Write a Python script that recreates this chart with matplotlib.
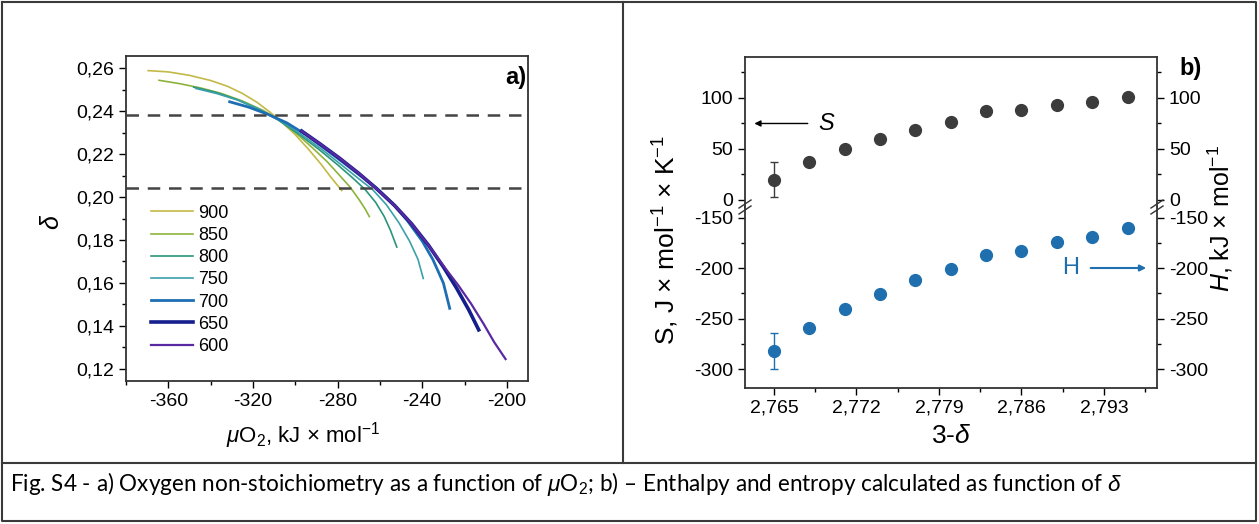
import matplotlib
matplotlib.use("Agg")
import matplotlib.pyplot as plt
from matplotlib.lines import Line2D
from matplotlib.ticker import MultipleLocator, FuncFormatter

plt.rcParams['font.family'] = ['Liberation Sans', 'DejaVu Sans']
plt.rcParams['mathtext.fontset'] = 'custom'
plt.rcParams['mathtext.rm'] = 'Liberation Sans'
plt.rcParams['mathtext.it'] = 'Liberation Sans:italic'
plt.rcParams['mathtext.bf'] = 'Liberation Sans:bold'

# ---- panel a: delta vs mu(O2) at several temperatures ----
temps = ["900", "850", "800", "750", "700", "650", "600"]
colors_a = ["#c3b946", "#8cb43c", "#2a9678", "#3ca0aa", "#1e6eb4", "#141e8c", "#5a28a0"]
widths_a = [1.2, 1.2, 1.2, 1.2, 2.0, 2.6, 1.6]

mu_900 = [-369.5, -360, -350, -340, -332, -325, -318, -312, -306, -300, -294, -288, -283, -278]
d_900 = [0.2588, 0.2582, 0.2566, 0.2542, 0.2515, 0.2482, 0.2440, 0.2395, 0.2345, 0.2290,
         0.2225, 0.2155, 0.2090, 0.2030]
mu_850 = [-364.4, -355, -345, -335, -325, -315, -308, -300, -292, -285, -279, -274, -270, -267, -265]
d_850 = [0.2543, 0.2528, 0.2508, 0.2482, 0.2447, 0.2402, 0.2360, 0.2300, 0.2230, 0.2165,
         0.2100, 0.2045, 0.1990, 0.1945, 0.1909]
mu_800 = [-348, -338, -328, -318, -308, -298, -288, -280, -273, -267, -262, -258, -255, -252]
d_800 = [0.2511, 0.2488, 0.2455, 0.2412, 0.2358, 0.2290, 0.2215, 0.2150, 0.2090, 0.2035,
         0.1975, 0.1910, 0.1845, 0.1767]
mu_750 = [-347, -337, -327, -317, -307, -297, -287, -278, -270, -263.5, -257, -251, -246, -242, -239.5]
d_750 = [0.2505, 0.2481, 0.2450, 0.2408, 0.2355, 0.2290, 0.2218, 0.2148, 0.2085, 0.2035,
         0.1965, 0.1880, 0.1795, 0.1710, 0.1621]
mu_700 = [-331, -322, -313, -304, -295, -286, -277, -268, -261.5, -254, -247, -240, -235, -230, -227]
d_700 = [0.2443, 0.2418, 0.2385, 0.2345, 0.2290, 0.2225, 0.2158, 0.2090, 0.2040, 0.1970,
         0.1890, 0.1795, 0.1710, 0.1600, 0.1482]
mu_650 = [-297, -288, -279, -270, -261.7, -253, -245, -237, -230, -224, -218, -213.3]
d_650 = [0.2307, 0.2245, 0.2180, 0.2110, 0.2040, 0.1960, 0.1875, 0.1775, 0.1675, 0.1580,
         0.1475, 0.1382]
mu_600 = [-297, -288, -279, -270, -261.7, -253, -245, -237, -230, -223, -217, -211, -206, -200.6]
d_600 = [0.2307, 0.2245, 0.2180, 0.2110, 0.2040, 0.1960, 0.1875, 0.1775, 0.1680, 0.1590,
         0.1505, 0.1410, 0.1325, 0.1246]
mu_list = [mu_900, mu_850, mu_800, mu_750, mu_700, mu_650, mu_600]
d_list = [d_900, d_850, d_800, d_750, d_700, d_650, d_600]
dash_levels = [0.2381, 0.2040]

# ---- panel b: S and H vs 3-delta ----
x_b = [2.765, 2.768, 2.771, 2.774, 2.777, 2.780, 2.783, 2.786, 2.789, 2.792, 2.795]
S_vals = [20, 37, 50, 60, 69, 76, 87, 88, 93, 96, 101]
S_err = [17, 0, 0, 0, 0, 0, 0, 0, 0, 0, 0]
H_vals = [-282, -259, -241, -226, -212, -201, -187, -183, -174, -169, -160]
H_err = [18, 0, 0, 0, 0, 0, 0, 0, 0, 0, 0]

W, H = 1259, 524
fig = plt.figure(figsize=(W / 100, H / 100), dpi=100)


def box(l, t, r, b):
    return [l / W, 1 - b / H, (r - l) / W, (b - t) / H]


comma2 = FuncFormatter(lambda v, p: ("%.2f" % v).replace(".", ","))
comma3 = FuncFormatter(lambda v, p: ("%.3f" % v).replace(".", ","))
intfmt = FuncFormatter(lambda v, p: "%d" % round(v))

# panel a
ax = fig.add_axes(box(126, 56, 528, 381))
for i in range(len(temps)):
    ax.plot(mu_list[i], d_list[i], color=colors_a[i], lw=widths_a[i], label=temps[i])
for lvl in dash_levels:
    ax.axhline(lvl, color="#444444", lw=1.8, dashes=(5, 3.5))
ax.set_xlim(-380, -190)
ax.set_ylim(0.1144, 0.2656)
ax.xaxis.set_major_locator(MultipleLocator(40))
ax.xaxis.set_minor_locator(MultipleLocator(20))
ax.yaxis.set_major_locator(MultipleLocator(0.02))
ax.yaxis.set_minor_locator(MultipleLocator(0.01))
ax.xaxis.set_major_formatter(intfmt)
ax.yaxis.set_major_formatter(comma2)
ax.tick_params(which="both", direction="out", labelsize=14, width=1)
ax.tick_params(which="major", length=5)
ax.tick_params(which="minor", length=3)
for s in ax.spines.values():
    s.set_color("#333333")
    s.set_linewidth(1.3)
ax.set_xlabel(r"$\mu$O$_2$, kJ × mol$^{-1}$", fontsize=16)
ax.xaxis.set_label_coords((303 - 126) / 402, -(436 - 381) / 325)
ax.xaxis.label.set_va("center")
ax.set_ylabel(r"$\delta$", fontsize=18)
ax.yaxis.set_label_coords(-(126 - 52) / 402, (381 - 222) / 325)
ax.yaxis.label.set_va("center")
ax.text(0.995, 0.935, "a)", transform=ax.transAxes, ha="right", va="center",
        fontsize=17, fontweight="bold")
ax.legend(loc="upper left", bbox_to_anchor=(0.045, 0.565), frameon=False, fontsize=13,
          handlelength=2.3, handletextpad=0.3, labelspacing=0.29, borderaxespad=0)

# panel b - broken axis made of two stacked axes
axu = fig.add_axes(box(745, 57, 1157, 207))
axl = fig.add_axes(box(745, 207, 1157, 388), sharex=axu)
axu.errorbar(x_b, S_vals, yerr=S_err, fmt="o", color="#3c3c3c", ms=8.5, elinewidth=1,
             capsize=3, capthick=1)
axl.errorbar(x_b, H_vals, yerr=H_err, fmt="o", color="#1f6fae", ms=8.5, elinewidth=1,
             capsize=3, capthick=1)
axu.set_ylim(-6.9, 140.2)
axl.set_ylim(-318.8, -139.6)
axl.set_xlim(2.76254, 2.7975)
axl.xaxis.set_major_locator(MultipleLocator(0.007))
axl.xaxis.set_minor_locator(MultipleLocator(0.0035))
axl.xaxis.set_major_formatter(comma3)
axu.yaxis.set_major_locator(MultipleLocator(50))
axu.yaxis.set_minor_locator(MultipleLocator(25))
axl.yaxis.set_major_locator(MultipleLocator(50))
axl.yaxis.set_minor_locator(MultipleLocator(25))
axu.yaxis.set_major_formatter(intfmt)
axl.yaxis.set_major_formatter(intfmt)
for a in (axu, axl):
    a.tick_params(which="both", direction="out", labelsize=14, left=True, right=True,
                  labelleft=True, labelright=True, width=1)
    a.tick_params(which="major", length=5)
    a.tick_params(which="minor", length=3)
    for s in a.spines.values():
        s.set_color("#333333")
        s.set_linewidth(1.3)
axu.spines["bottom"].set_visible(False)
axl.spines["top"].set_visible(False)
axu.tick_params(axis="x", which="both", bottom=False, labelbottom=False)
axl.set_xlabel(r"3-$\delta$", fontsize=19)
axl.xaxis.set_label_coords(0.5, -(436 - 388) / 181)
axl.xaxis.label.set_va("center")
fig.text(666 / W, 1 - 240 / H, r"S, J × mol$^{-1}$ × K$^{-1}$", rotation=90, fontsize=19,
         ha="center", va="center")
fig.text(1220 / W, 1 - 218 / H, r"$H$, kJ × mol$^{-1}$", rotation=90, fontsize=18,
         ha="center", va="center")
fig.text(1191 / W, 1 - 68 / H, "b)", fontsize=17, fontweight="bold", ha="center", va="center")

axu.annotate("", xy=(2.7631, 75), xytext=(2.7681, 75),
             arrowprops=dict(arrowstyle="-|>", color="black", lw=1, mutation_scale=9))
axu.text(2.7694, 75, "S", fontsize=17, style="italic", ha="center", va="center")
axl.annotate("", xy=(2.79682, -200), xytext=(2.79164, -200),
             arrowprops=dict(arrowstyle="-|>", color="#1f6fae", lw=1.5, mutation_scale=9))
axl.text(2.7902, -200, "H", fontsize=17, color="#1f6fae", ha="center", va="center")

# break marks
for xp in (745, 1157):
    for dy in (-3, 3):
        fig.add_artist(Line2D([(xp - 6) / W, (xp + 6) / W],
                              [1 - (207 + dy + 4) / H, 1 - (207 + dy - 4) / H],
                              color="#333333", lw=1))

# table borders and caption
bc = "#3a3a3a"
fig.add_artist(Line2D([2 / W, 1256 / W, 1256 / W, 2 / W, 2 / W],
                      [1 - 2 / H, 1 - 2 / H, 1 - 521 / H, 1 - 521 / H, 1 - 2 / H], color=bc, lw=1.5))
fig.add_artist(Line2D([623 / W, 623 / W], [1 - 2 / H, 1 - 463 / H], color=bc, lw=1.5))
fig.add_artist(Line2D([2 / W, 1256 / W], [1 - 463 / H, 1 - 463 / H], color=bc, lw=1.5))

cap = fig.text(10 / W, 1 - 484 / H,
               r"Fig. S4 - a) Oxygen non-stoichiometry as a function of $\mu$O$_2$; "
               r"b) – Enthalpy and entropy calculated as function of $\delta$",
               fontsize=13, ha="left", va="center", family=["Lato", "DejaVu Sans"])
fig.canvas.draw()
w = cap.get_window_extent().width
cap.set_fontsize(13 * 1112 / w)

fig.savefig("out.png", dpi=100)
